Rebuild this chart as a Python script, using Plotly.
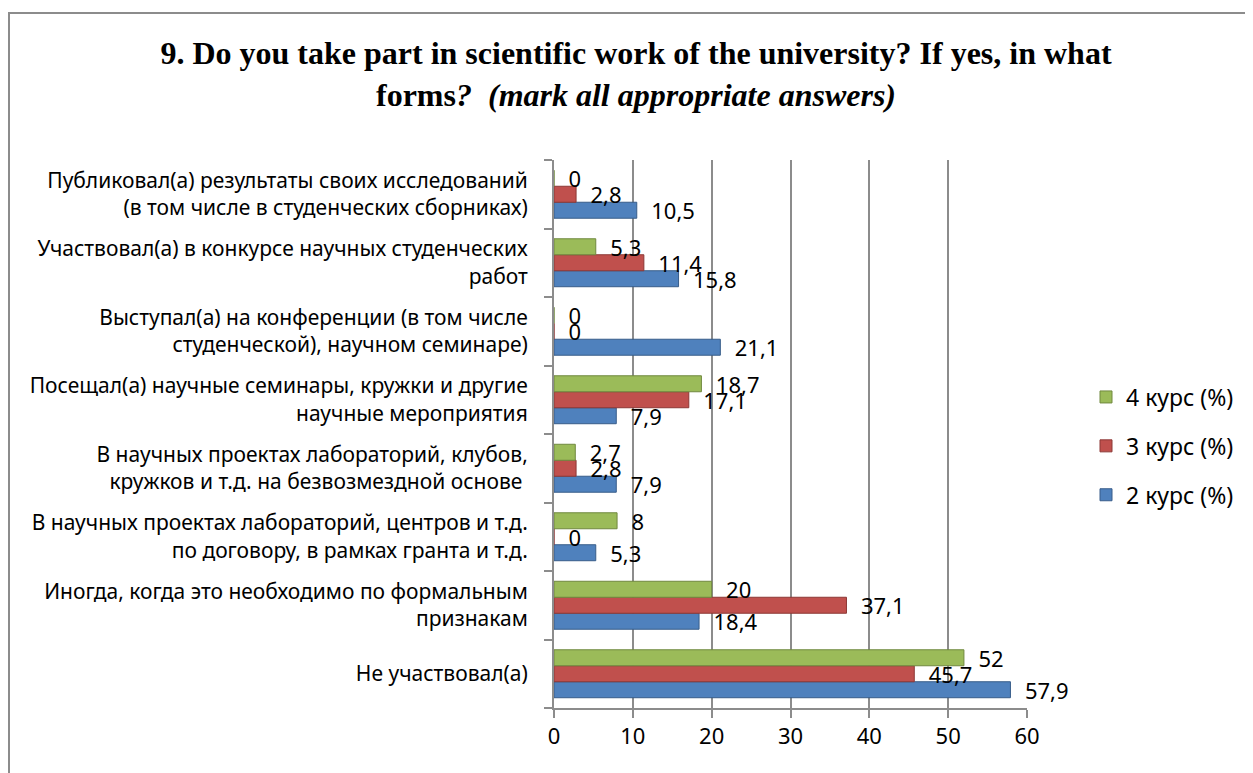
import plotly.graph_objects as go

categories = [
    "Не участвовал(а)",
    "Иногда, когда это необходимо по формальным<br>признакам",
    "В научных проектах лабораторий, центров и т.д.<br>по договору, в рамках гранта и т.д.",
    "В научных проектах лабораторий, клубов,<br>кружков и т.д. на безвозмездной основе ",
    "Посещал(а) научные семинары, кружки и другие<br>научные мероприятия",
    "Выступал(а) на конференции (в том числе<br>студенческой), научном семинаре)",
    "Участвовал(а) в конкурсе научных студенческих<br>работ",
    "Публиковал(а) результаты своих исследований<br>(в том числе в студенческих сборниках)",
]
kurs2 = [57.9, 18.4, 5.3, 7.9, 7.9, 21.1, 15.8, 10.5]
kurs3 = [45.7, 37.1, 0, 2.8, 17.1, 0, 11.4, 2.8]
kurs4 = [52, 20, 8, 2.7, 18.7, 0, 5.3, 0]
series_names = ["2 курс (%)", "3 курс (%)", "4 курс (%)"]
colors = ["#4F81BD", "#C0504D", "#9BBB59"]
edge_colors = ["#385D8A", "#8C3836", "#71893F"]
x_ticks = [0, 10, 20, 30, 40, 50, 60]

OFF = 8  # page body margin
W, H = 1253 - OFF, 773 - OFF
L, R, T, B = 554 - OFF, 1027 - OFF, 160 - OFF, 708 - OFF
pw, ph = R - L, B - T


def px_x(p):
    return (p - OFF - L) / pw


def px_y(p):
    return (B - (p - OFF)) / ph


def fmt(v):
    return ("%g" % v).replace(".", ",")


fig = go.Figure()
for i, (name, vals) in enumerate(zip(series_names, [kurs2, kurs3, kurs4])):
    fig.add_trace(go.Bar(
        y=categories, x=vals, orientation="h", name=name,
        marker=dict(color=colors[i], line=dict(color=edge_colors[i], width=1)),
        text=[fmt(v) for v in vals], texttemplate="  %{text}",
        textposition="outside", constraintext="none", cliponaxis=False,
        textfont=dict(family="Noto Sans", size=22, color="black"),
        legendgroup=name, legendrank=3 - i,
    ))

fig.update_layout(
    width=W, height=H,
    margin=dict(l=L, r=W - R, t=T, b=H - B, pad=0),
    paper_bgcolor="white", plot_bgcolor="white",
    barmode="group", bargap=0.3, bargroupgap=0,
    font=dict(family="Noto Sans", color="black"),
    title=dict(
        text="<b>9. Do you take part in scientific work of the university? If yes, in what<br>forms<i>?  (mark all appropriate answers)</i></b>",
        x=(636 - OFF) / W, xref="container", xanchor="center",
        y=1 - 56 / H, yref="container", yanchor="top",
        font=dict(family="Liberation Serif", size=32, color="black"),
    ),
    xaxis=dict(
        range=[0, 60], tickvals=x_ticks, ticktext=[str(t) for t in x_ticks],
        showgrid=True, gridcolor="#8C8C8C", gridwidth=2,
        showline=True, linecolor="#8C8C8C", linewidth=2,
        ticks="outside", ticklen=8, tickcolor="#8C8C8C", tickwidth=2,
        tickfont=dict(family="Noto Sans", size=22, color="black"),
        zeroline=False, fixedrange=True,
    ),
    yaxis=dict(
        showline=True, linecolor="#8C8C8C", linewidth=2,
        ticks="outside", ticklen=8, tickcolor="#8C8C8C", tickwidth=2,
        tickson="boundaries", ticklabelstandoff=20,
        tickfont=dict(family="Noto Sans", size=21, color="black"),
        showgrid=False, fixedrange=True,
    ),
    legend=dict(
        x=px_x(1086), xanchor="left", y=px_y(446), yanchor="middle",
        traceorder="grouped", tracegroupgap=16,
        font=dict(family="Noto Sans", size=23, color="black"),
        bgcolor="rgba(0,0,0,0)",
    ),
    shapes=[dict(
        type="rect", xref="paper", yref="paper",
        x0=px_x(9), x1=px_x(1300), y0=px_y(820), y1=px_y(13),
        line=dict(color="#8C8C8C", width=2), fillcolor="rgba(0,0,0,0)",
        layer="below",
    )],
)

fig.write_html("out.html")
